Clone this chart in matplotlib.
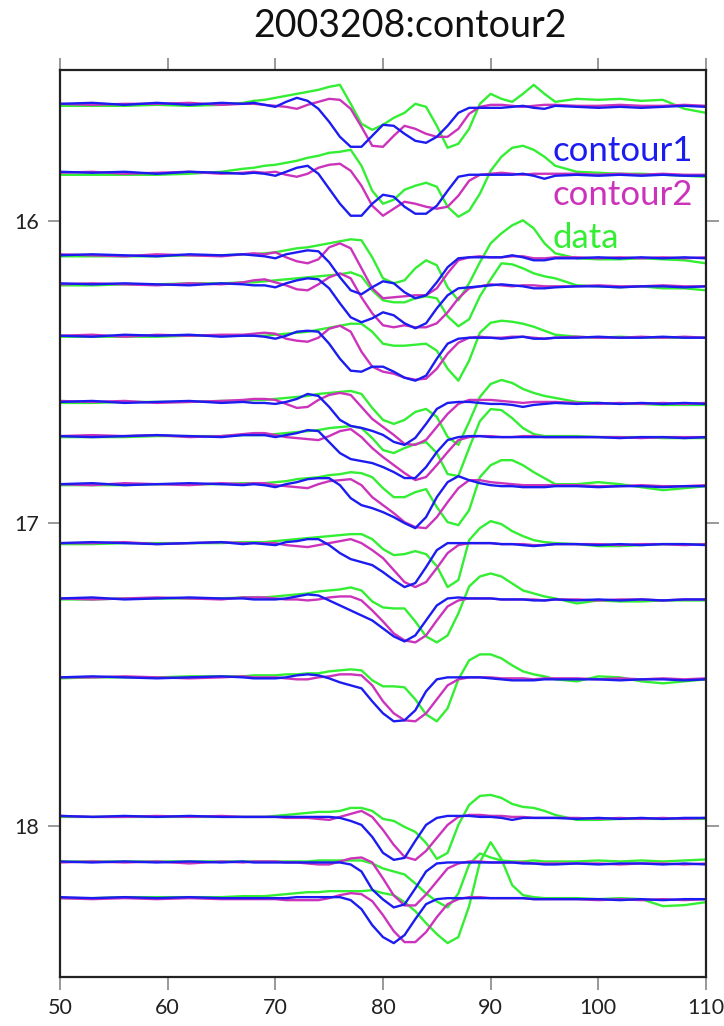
import matplotlib
matplotlib.use('Agg')
import matplotlib.pyplot as plt

plt.rcParams['font.family'] = ['Lato', 'DejaVu Sans']

# sample times (s) shared by every trace
T = [50, 53, 56, 59, 62, 65, 67, 68,
     69, 70, 71, 72, 73, 74, 75, 76, 77, 78, 79, 80, 81, 82, 83, 84,
     85, 86, 87, 88, 89, 90, 91, 92, 93, 94, 95, 96,
     98, 100, 102, 104, 106, 108, 110]

# epicentral distance of each station = trace baseline
distance = [15.612, 15.840, 16.113, 16.209, 16.379, 16.598, 16.711,
            16.870, 17.065, 17.248, 17.509, 17.964, 18.118, 18.236]

# trace amplitudes in plot counts, positive = up
contour1 = [
    [0, 1, -1, 1, -1, 1, 0, 1, -1, -3, 2, 6, 3, -5, -18, -33, -43, -43, -32, -21, -22, -30, -37, -39, -33, -22, -9, -4, -4, -4, -4, -3, -2, -4, -5, -2, -3, -4, -3, -4, -3, -2, -3],
    [1, 0, 1, -1, 1, 0, -1, 0, -1, -3, 1, 5, 7, -1, -16, -31, -43, -43, -31, -22, -24, -34, -41, -41, -33, -18, -4, -2, -2, -2, -2, -2, -1, -3, -6, -3, -2, -3, -2, -3, -2, -3, -3],
    [0, 1, 0, -1, 1, 0, 1, 0, -1, -3, 1, 3, 5, 4, -7, -22, -35, -39, -32, -26, -28, -37, -43, -40, -27, -12, -3, -2, -2, -2, -2, 0, -2, -5, -5, -3, -3, -2, -3, -2, -3, -2, -3],
    [1, 0, 1, 0, -1, 1, 0, -1, -1, -3, 1, 4, 6, 5, -4, -19, -33, -38, -34, -28, -31, -39, -44, -39, -24, -11, -4, -3, -2, -1, 0, -1, -2, -4, -4, -3, -2, -2, -3, -2, -2, -3, -2],
    [0, -1, 1, 0, 1, -1, 0, 0, -1, -3, 0, 4, 5, 4, -8, -23, -35, -36, -31, -31, -36, -42, -45, -40, -23, -8, -3, -2, -2, -2, -3, -2, -1, -3, -3, -2, -2, -1, -2, -2, -1, -2, -2],
    [0, 1, -1, 0, 1, -1, 0, -1, -1, -2, 0, 3, 8, 6, -5, -18, -24, -26, -29, -33, -40, -43, -36, -22, -7, -1, 0, 0, -1, -2, -2, -3, -5, -3, -2, -1, -2, -1, -2, -1, -2, -1, -2],
    [0, -1, 0, 1, 0, -1, 1, 1, 1, -1, 1, 3, 6, 5, -6, -17, -23, -25, -27, -31, -36, -42, -42, -31, -16, -4, -1, 0, 0, -1, -1, -1, -1, -1, -1, -1, -1, -1, -2, -1, -1, -2, -1],
    [0, 1, -1, 0, 1, 0, -1, 0, -1, -3, 0, 2, 5, 6, 6, -1, -14, -21, -24, -28, -33, -39, -44, -33, -13, 2, 8, 4, 1, -1, -2, -2, -3, -3, -3, -2, -2, -3, -2, -2, -3, -2, -2],
    [0, 1, 0, -1, 0, 1, -1, 0, -1, -2, 1, 2, 4, 4, -2, -10, -16, -19, -22, -29, -37, -44, -40, -24, -7, 0, 0, 0, 0, 0, -1, -1, -2, -3, -2, -1, -1, -2, -1, -2, -1, -1, -2],
    [0, 1, -1, 0, 1, 0, 0, -1, -1, -1, 0, 2, 4, 3, -2, -7, -12, -17, -22, -30, -38, -43, -37, -22, -7, 0, 1, 0, 0, 0, -1, -1, -1, -2, -2, -1, -2, -1, -2, -1, -2, -1, -1],
    [0, 1, 0, -1, 0, 1, 0, -1, -1, -1, 0, 2, 3, 2, -1, -5, -8, -11, -24, -36, -44, -43, -33, -14, -2, 0, 0, 0, 0, -1, -2, -3, -3, -3, -2, -2, -2, -2, -3, -2, -2, -3, -2],
    [-1, -2, -1, -2, -1, -2, -2, -2, -2, -2, -2, -2, -2, -2, -2, -3, -6, -10, -22, -38, -45, -43, -26, -10, -3, -1, -1, -1, -2, -2, -3, -5, -3, -3, -3, -3, -4, -3, -4, -3, -4, -3, -3],
    [0, -1, 0, -1, 0, -1, 0, -1, -1, -1, -1, -1, -1, -1, -1, -1, -3, -10, -28, -38, -46, -43, -27, -10, -2, -1, -1, -1, -1, -1, -1, -1, -2, -2, -3, -3, -2, -3, -2, -2, -3, -2, -3],
    [0, -1, 0, -1, 0, -1, -1, -1, -1, -1, -1, 0, 0, 0, 0, 0, -3, -12, -28, -40, -46, -38, -22, -7, -2, -1, -1, -1, -1, -1, -1, -1, -1, -2, -2, -2, -2, -2, -3, -2, -3, -2, -2],
]

contour2 = [
    [0, -1, 0, 0, 1, -1, 0, 0, -1, -2, -3, -5, -1, 2, 5, 4, -5, -23, -42, -43, -32, -22, -25, -30, -33, -33, -25, -10, -3, -1, -1, -2, -3, -2, -1, -1, -2, -2, -1, -2, -2, -1, -2],
    [0, 1, -1, 0, 1, -1, 0, 1, 0, 1, -2, -4, -1, 5, 8, 9, 2, -13, -33, -43, -36, -29, -31, -34, -36, -34, -23, -8, -2, -1, 0, -1, -2, -1, -1, -1, -1, -2, -1, -2, -1, -2, -2],
    [1, 0, -1, 1, 0, -1, 1, 2, 1, 3, -2, -6, -8, -4, 8, 12, 7, -13, -33, -43, -42, -41, -40, -40, -33, -18, -5, -2, -1, -2, -2, -1, -1, -3, -3, -2, -2, -3, -2, -3, -2, -3, -2],
    [0, 1, 0, -1, 1, 0, 2, 4, 5, 2, -1, -5, -6, 0, 7, 11, 6, -13, -29, -41, -43, -41, -43, -43, -39, -28, -14, -4, -2, 0, -1, -2, -1, -1, -2, -2, -2, -1, -2, -2, -1, -2, -2],
    [0, 1, -1, 1, 0, 1, 1, 2, 3, 2, -3, -5, -6, -2, 7, 10, 4, -16, -31, -36, -38, -42, -44, -43, -33, -18, -7, -2, -1, -2, -2, -1, -1, -2, -3, -2, -1, -2, -2, -1, -2, -1, -2],
    [1, 0, 1, -1, 0, 1, 2, 3, 3, 2, -2, -6, -5, 2, 7, 9, 7, -5, -17, -25, -33, -42, -43, -38, -25, -12, -2, 2, 2, 2, 1, 0, -1, 0, 0, 0, -1, -2, -1, -2, -1, -2, -1],
    [0, 1, 0, 1, -1, 0, 2, 3, 3, 1, -1, -2, -3, -4, 0, 5, 7, -1, -12, -21, -29, -37, -44, -41, -29, -16, -4, -1, 0, 0, -1, -1, 0, 0, -1, -1, -1, -1, -1, -2, -1, -1, -1],
    [0, -1, 1, 0, -1, 1, 0, 1, 1, -1, -2, -3, -4, 0, 3, 4, 5, -1, -13, -21, -29, -38, -43, -44, -33, -18, -4, 4, 4, 2, 1, 0, -1, -1, -1, -1, -1, -2, -2, -1, -2, -2, -1],
    [0, 0, 1, -1, 0, 1, 0, 0, 0, 0, -2, -3, -4, -2, 0, 2, 4, 0, -7, -15, -27, -39, -44, -39, -25, -10, -2, 0, 0, 0, -1, -1, -1, -2, -2, -1, -1, -1, -2, -1, -1, -2, -1],
    [0, -1, 0, 1, 0, -1, 1, 1, 1, 0, -1, -1, -2, -1, 1, 2, 2, -2, -12, -23, -35, -42, -44, -37, -22, -8, -2, 0, 0, 0, -1, -1, -1, -1, -2, -1, -1, -2, -1, -1, -2, -1, -1],
    [0, 0, 1, 0, -1, 0, 1, 0, 0, 0, -1, -2, -2, 0, 1, 3, 3, 2, -8, -24, -36, -43, -44, -36, -22, -8, -2, 0, 0, 0, -1, -1, -1, -2, -1, -1, -1, -2, -1, -2, -1, -2, -1],
    [-1, -2, -2, -1, -2, -1, -2, -2, -2, -2, -3, -3, -3, -4, -5, -2, 1, 4, -2, -15, -30, -42, -45, -36, -23, -10, -2, 0, 0, -1, -1, -2, -2, -3, -3, -3, -3, -4, -3, -4, -3, -4, -3],
    [-1, 0, -1, 0, -2, 0, -1, 0, 0, 0, -1, -1, -2, -3, -3, 0, 3, 4, -1, -17, -34, -44, -44, -33, -20, -7, -2, 0, 0, -1, -1, -1, -1, -2, -2, -2, -2, -2, -3, -2, -2, -3, -2],
    [-1, -2, -1, -2, -1, -2, -2, -2, -2, -2, -3, -3, -3, -3, -1, 2, 4, 3, -4, -18, -34, -45, -45, -35, -20, -7, -2, 0, 0, -1, -1, -1, -1, -2, -2, -2, -2, -3, -2, -3, -2, -3, -2],
]

data = [
    [-2, -2, -2, -1, -2, -1, 1, 3, 4, 6, 8, 10, 12, 14, 17, 19, 0, -20, -26, -21, -14, -9, 0, -3, -22, -44, -40, -25, 0, 10, 5, 2, 10, 19, 10, 2, 5, 4, 5, 3, 4, -5, -9],
    [-2, -2, -2, -2, -1, 1, 4, 5, 7, 8, 10, 12, 15, 17, 20, 21, 23, 7, -18, -31, -27, -17, -13, -10, -14, -34, -44, -38, -21, 2, 16, 25, 27, 23, 16, 7, 1, 0, -1, -1, -2, -3, -4],
    [-1, -1, -1, -1, 0, 0, 1, 1, 2, 3, 5, 7, 8, 10, 12, 14, 16, 15, -2, -23, -28, -25, -13, -5, -10, -32, -45, -28, -7, 12, 22, 30, 35, 27, 12, 2, -3, -4, -4, -3, -4, -5, -8],
    [-1, -1, 0, 0, 1, 1, 2, 2, 3, 4, 5, 6, 7, 8, 9, 10, 12, 8, -6, -16, -18, -18, -14, -12, -14, -32, -42, -35, -12, 5, 21, 20, 16, 11, 8, 6, -1, -2, -3, -2, -4, -4, -6],
    [-1, -1, -1, -1, 0, 0, 0, 0, 0, 1, 2, 3, 4, 6, 8, 10, 12, 12, 4, -8, -10, -10, -9, -8, -15, -33, -45, -25, 3, 13, 15, 14, 12, 9, 5, 1, -1, -2, -1, -2, -2, -2, -2],
    [-1, -1, 0, 0, 0, 1, 1, 2, 2, 3, 4, 5, 6, 8, 9, 10, 11, 8, -6, -18, -22, -18, -10, -7, -15, -35, -43, -20, 5, 18, 22, 19, 13, 9, 6, 4, 0, -1, -2, -2, -3, -3, -3],
    [-1, -1, -1, 0, 0, 0, 1, 1, 1, 2, 3, 4, 5, 6, 8, 9, 10, 8, -2, -14, -17, -12, -8, -6, -17, -38, -40, -12, 15, 27, 26, 18, 8, 2, 0, 0, 0, -1, -1, -1, -2, -2, -2],
    [-1, -1, -1, 0, 0, 0, 1, 1, 1, 2, 3, 5, 6, 7, 9, 10, 12, 11, 7, -4, -13, -13, -8, -5, -23, -38, -41, -26, 7, 19, 24, 24, 19, 12, 6, 0, 0, 2, 0, -3, -6, -4, -2],
    [-1, -1, 0, 0, 0, 0, 1, 1, 1, 2, 3, 4, 5, 6, 7, 8, 9, 9, 4, -6, -12, -11, -8, -11, -23, -44, -37, 3, 15, 22, 19, 12, 7, 3, 1, 0, -1, -3, -3, -2, -1, -1, -1],
    [-1, -1, 0, 0, 0, 0, 1, 1, 1, 2, 3, 4, 5, 7, 8, 9, 11, 8, -3, -9, -10, -10, -23, -38, -44, -37, -15, 12, 22, 25, 22, 15, 8, 5, 2, 0, -5, -2, -3, -3, -2, -2, -2],
    [-1, 0, 0, 0, 1, 1, 1, 2, 2, 2, 3, 3, 4, 4, 6, 7, 8, 7, -3, -9, -9, -10, -22, -37, -44, -31, -2, 17, 23, 23, 19, 12, 6, 3, 1, -2, -4, 1, 0, -4, -6, -4, -2],
    [-2, -2, -2, -2, -2, -2, -2, -2, -2, -1, 0, 1, 2, 3, 3, 4, 7, 7, 4, -4, -6, -12, -17, -28, -44, -38, -10, 10, 19, 20, 17, 11, 8, 7, 4, 0, -5, -5, -4, -4, -4, -4, -4],
    [0, 0, 0, 0, 0, 0, 0, 0, 0, 0, 0, 0, 0, 1, 1, 1, 1, 1, -2, -7, -10, -13, -22, -32, -40, -46, -32, -3, 8, 4, 1, 0, 0, 1, 0, 0, 0, 1, 0, 1, 0, 1, 2],
    [-1, -1, 0, 0, 0, 0, 1, 1, 1, 2, 3, 4, 5, 5, 6, 6, 6, 6, 7, 4, 2, -5, -14, -26, -37, -46, -40, -9, 35, 55, 38, 12, 2, 0, -1, -1, -1, -2, -1, -2, -9, -8, -5],
]

GAIN = 1 / 302.6  # counts -> degrees on the distance axis

fig = plt.figure(figsize=(7.24, 10.26), dpi=100)
ax = fig.add_axes([0.0829, 0.0478, 0.8922, 0.884])

series = [(data, '#33ee33'), (contour2, '#cc33bb'), (contour1, '#1c1cf0')]
for rows, col in series:
    for base, amp in zip(distance, rows):
        ax.plot(T, [base - a * GAIN for a in amp], color=col, lw=1.7,
                solid_joinstyle='round')

ax.set_xlim(50, 110)
ax.set_ylim(18.5, 15.5)
ax.set_xticks([50, 60, 70, 80, 90, 100, 110])
ax.set_yticks([16, 17, 18])

ax.tick_params(direction='out', length=9, width=1.2, color='#888888',
               labelsize=15.5, labelcolor='#222222', top=True, right=True, pad=6)
for s in ax.spines.values():
    s.set_linewidth(1.6)
    s.set_color('#222222')

ax.text(0.763, 0.911, 'contour1', color='#1c1cf0', fontsize=25,
        transform=ax.transAxes, va='center', ha='left')
ax.text(0.763, 0.862, 'contour2', color='#cc33bb', fontsize=25,
        transform=ax.transAxes, va='center', ha='left')
ax.text(0.763, 0.815, 'data', color='#33ee33', fontsize=25,
        transform=ax.transAxes, va='center', ha='left')

fig.text(0.566, 0.975, '2003208:contour2', ha='center', va='center',
         fontsize=27, color='#111111')

fig.savefig('out.png', dpi=100)
